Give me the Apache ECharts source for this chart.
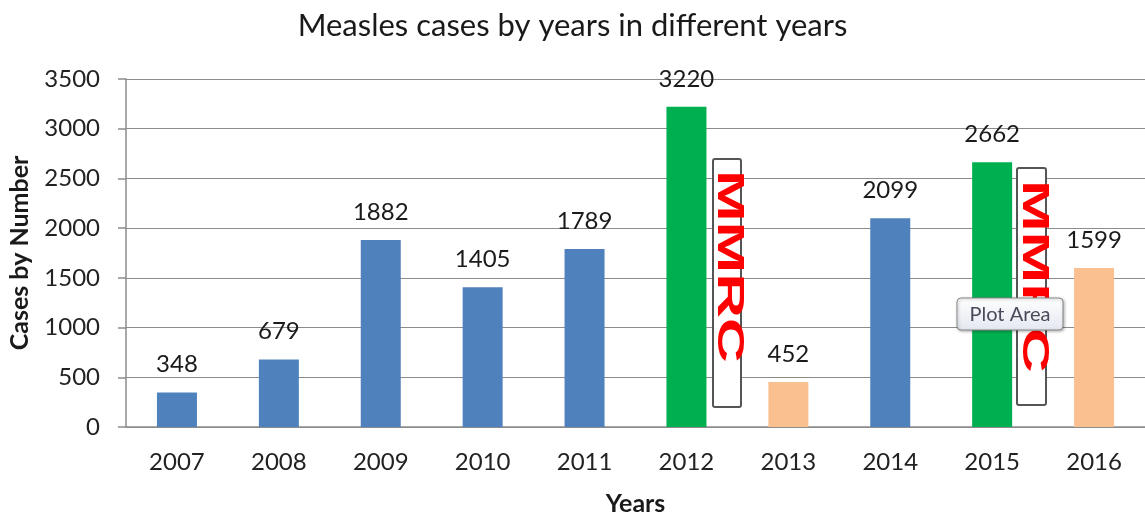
<!DOCTYPE html>
<html>
<head>
<meta charset="utf-8">
<script src="https://cdn.jsdelivr.net/npm/echarts@6/dist/echarts.min.js"></script>
<style>
  html, body { margin: 0; padding: 0; background: #fff; }
  #chart { width: 1145px; height: 518px; }
</style>
</head>
<body>
<div id="chart"></div>
<script>
// Measles cases per year
const years = ['2007', '2008', '2009', '2010', '2011', '2012', '2013', '2014', '2015', '2016'];
const cases = [348, 679, 1882, 1405, 1789, 3220, 452, 2099, 2662, 1599];
const barColors = ['#4F81BD', '#4F81BD', '#4F81BD', '#4F81BD', '#4F81BD', '#00B050', '#FAC090', '#4F81BD', '#00B050', '#FAC090'];
const yTicks = { min: 0, max: 3500, interval: 500 };

const FONT = 'Lato, "Open Sans", sans-serif';

const chart = echarts.init(document.getElementById('chart'), null, { renderer: 'canvas' });

// Vertical "MMRC" stamp inside a thin rounded frame
function stamp(left, top, width, height, textTop) {
  return [
    {
      type: 'rect',
      shape: { x: left, y: top, width: width, height: height, r: 2 },
      style: { fill: '#fff', stroke: '#555', lineWidth: 2 },
      z: 10
    },
    {
      type: 'text',
      x: left + width / 2 + 1,
      y: textTop,
      rotation: -Math.PI / 2,
      scaleX: 1.72,
      style: {
        text: 'MMRC',
        fill: '#FF0000',
        font: 'bold 36px "Liberation Sans", Arial, sans-serif',
        textAlign: 'left',
        textVerticalAlign: 'middle'
      },
      z: 11
    }
  ];
}

const option = {
  backgroundColor: '#fff',
  animation: false,
  title: {
    text: 'Measles cases by years in different years',
    left: 'center',
    top: 5,
    textStyle: { fontFamily: FONT, fontSize: 31, fontWeight: 'normal', color: '#1a1a1a' }
  },
  grid: { left: 126, right: 0, top: 79, bottom: 91, containLabel: false, outerBoundsMode: 'none' },
  xAxis: {
    type: 'category',
    data: years,
    name: 'Years',
    nameLocation: 'middle',
    nameGap: 64,
    nameTextStyle: { fontFamily: FONT, fontSize: 25, fontWeight: 'bold', color: '#1a1a1a' },
    axisLine: { lineStyle: { color: '#8c8c8c', width: 1.5 } },
    axisTick: { show: false },
    axisLabel: { fontFamily: FONT, fontSize: 24, color: '#222', margin: 23 }
  },
  yAxis: {
    type: 'value',
    min: yTicks.min,
    max: yTicks.max,
    interval: yTicks.interval,
    name: 'Cases by Number',
    nameLocation: 'middle',
    nameGap: 94,
    nameTextStyle: { fontFamily: FONT, fontSize: 25, fontWeight: 'bold', color: '#1a1a1a' },
    axisLine: { show: true, lineStyle: { color: '#8c8c8c', width: 1.5 } },
    axisTick: { show: true, inside: false, length: 8, lineStyle: { color: '#8c8c8c', width: 1.5 } },
    axisLabel: { fontFamily: FONT, fontSize: 24, color: '#222', margin: 26, formatter: v => String(v) },
    splitLine: { lineStyle: { color: '#8c8c8c', width: 1.2 } }
  },
  series: [{
    type: 'bar',
    data: cases.map((v, i) => ({ value: v, itemStyle: { color: barColors[i] } })),
    barWidth: 40,
    label: {
      show: true,
      position: 'top',
      distance: 16,
      fontFamily: FONT,
      fontSize: 24,
      color: '#1a1a1a'
    }
  }],
  graphic: [
    ...stamp(713, 159, 28, 248, 170),
    ...stamp(1017, 168, 29, 237, 180),
    {
      type: 'group',
      z: 20,
      children: [
        {
          type: 'rect',
          shape: { x: 957, y: 298, width: 106, height: 32, r: 4 },
          style: {
            fill: new echarts.graphic.LinearGradient(0, 0, 0, 1, [
              { offset: 0, color: '#ffffff' },
              { offset: 1, color: '#e4e8f0' }
            ]),
            stroke: '#8a8a8a',
            lineWidth: 1,
            shadowBlur: 3,
            shadowColor: 'rgba(0,0,0,0.3)',
            shadowOffsetX: 1,
            shadowOffsetY: 1
          },
          z: 20
        },
        {
          type: 'text',
          x: 1010,
          y: 315,
          style: {
            text: 'Plot Area',
            fill: '#4a4a5a',
            font: '20px ' + FONT,
            textAlign: 'center',
            textVerticalAlign: 'middle'
          },
          z: 21
        }
      ]
    }
  ]
};

chart.setOption(option);
</script>
</body>
</html>
